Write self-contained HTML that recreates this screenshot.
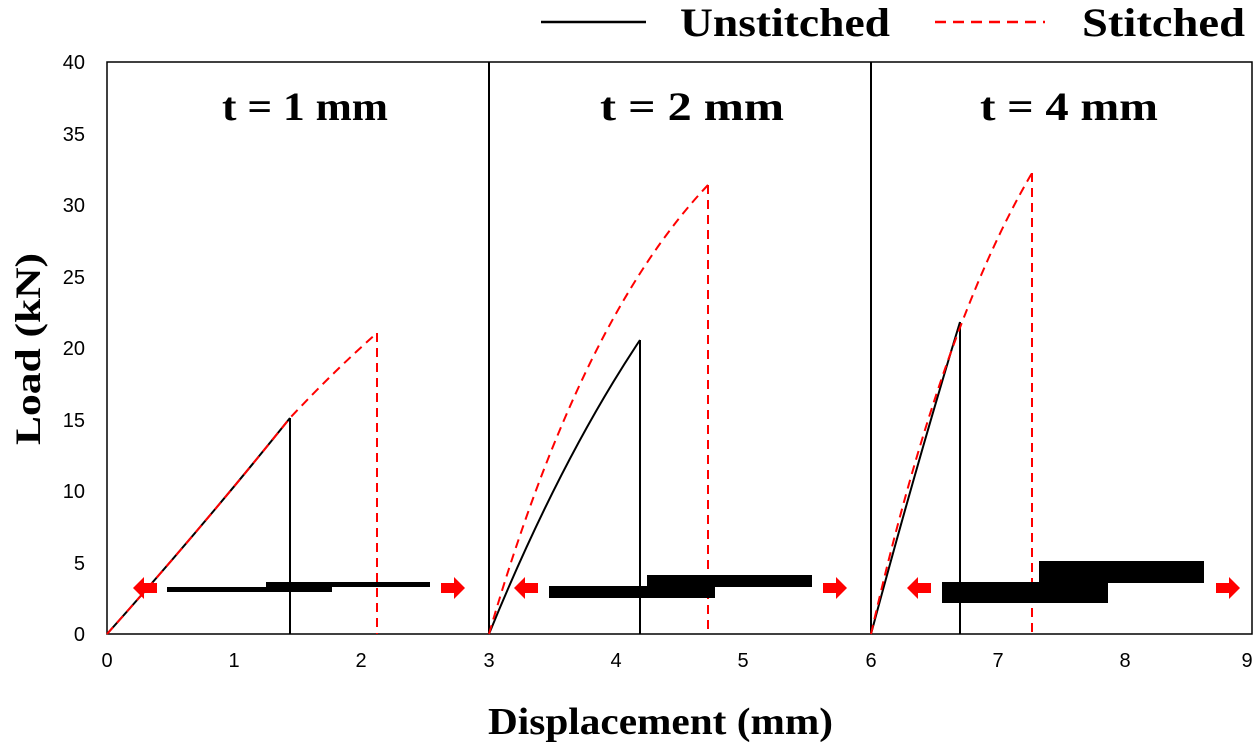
<!DOCTYPE html>
<html><head><style>body{margin:0;background:#fff}</style></head><body>
<svg width="1260" height="747" xmlns="http://www.w3.org/2000/svg">
<rect width="1260" height="747" fill="#fff"/>
<g font-family="Liberation Serif, serif" font-weight="bold" font-size="40">
<line x1="541" y1="22" x2="646" y2="22" stroke="#000" stroke-width="2.5"/>
<text x="680" y="36" textLength="210" lengthAdjust="spacingAndGlyphs">Unstitched</text>
<line x1="935" y1="22" x2="1045" y2="22" stroke="#f00" stroke-width="2.5" stroke-dasharray="11,7"/>
<text x="1082" y="36" textLength="163" lengthAdjust="spacingAndGlyphs">Stitched</text>
<text x="222" y="120" font-size="40" textLength="166" lengthAdjust="spacingAndGlyphs">t = 1 mm</text>
<text x="600" y="120" font-size="40" textLength="184" lengthAdjust="spacingAndGlyphs">t =  2 mm</text>
<text x="980" y="120" font-size="40" textLength="178" lengthAdjust="spacingAndGlyphs">t = 4 mm</text>
<text x="488" y="734" font-size="38" textLength="345" lengthAdjust="spacingAndGlyphs">Displacement (mm)</text>
<text transform="translate(40,445) rotate(-90)" font-size="36" textLength="192" lengthAdjust="spacingAndGlyphs">Load (kN)</text>
</g>
<rect x="107" y="62" width="1145" height="572" fill="none" stroke="#000" stroke-width="1.5"/>
<line x1="489" y1="62" x2="489" y2="634" stroke="#000" stroke-width="2"/>
<line x1="871" y1="62" x2="871" y2="634" stroke="#000" stroke-width="2"/>
<g font-family="Liberation Sans, sans-serif" font-size="20" fill="#000">
<g text-anchor="end">
<text x="85" y="641">0</text><text x="85" y="570">5</text><text x="85" y="498">10</text><text x="85" y="427">15</text>
<text x="85" y="355">20</text><text x="85" y="284">25</text><text x="85" y="212">30</text><text x="85" y="141">35</text><text x="85" y="69">40</text>
</g>
<g text-anchor="middle">
<text x="107" y="667">0</text><text x="234" y="667">1</text><text x="361" y="667">2</text><text x="489" y="667">3</text><text x="616" y="667">4</text>
<text x="743" y="667">5</text><text x="871" y="667">6</text><text x="998" y="667">7</text><text x="1125" y="667">8</text><text x="1247" y="667">9</text>
</g></g>
<g fill="none" stroke-width="2">
<path d="M107,634 Q200,530 290,418" stroke="#000"/>
<line x1="290" y1="418" x2="290" y2="634" stroke="#000"/>
<path d="M107,634 Q200,530 290,418 Q335,370 377,333" stroke="#f00" stroke-dasharray="9,6"/>
<line x1="377" y1="333" x2="377" y2="634" stroke="#f00" stroke-dasharray="9,6"/>
<path d="M489,634 Q560,460 640,340" stroke="#000"/>
<line x1="640" y1="340" x2="640" y2="634" stroke="#000"/>
<path d="M489,634 Q580,320 708,185" stroke="#f00" stroke-dasharray="9,6"/>
<line x1="708" y1="185" x2="708" y2="634" stroke="#f00" stroke-dasharray="9,6"/>
<path d="M871,634 Q915,470 960,322" stroke="#000"/>
<line x1="960" y1="322" x2="960" y2="634" stroke="#000"/>
<path d="M871,634 Q940,330 1032,173" stroke="#f00" stroke-dasharray="9,6"/>
<line x1="1032" y1="173" x2="1032" y2="634" stroke="#f00" stroke-dasharray="9,6"/>
</g>
<g fill="#000">
<rect x="167" y="587" width="165" height="5"/><rect x="266" y="582" width="164" height="5"/>
<rect x="549" y="586" width="166" height="12"/><rect x="647" y="575" width="165" height="12"/>
<rect x="942" y="582" width="166" height="21"/><rect x="1039" y="561" width="165" height="22"/>
</g>
<g fill="#f00">
<path d="M133,588 l11,-11 v6 h13 v10 h-13 v6 z"/>
<path d="M465,588 l-11,-11 v6 h-13 v10 h13 v6 z"/>
<path d="M514,588 l11,-11 v6 h13 v10 h-13 v6 z"/>
<path d="M847,588 l-11,-11 v6 h-13 v10 h13 v6 z"/>
<path d="M907,588 l11,-11 v6 h13 v10 h-13 v6 z"/>
<path d="M1240,588 l-11,-11 v6 h-13 v10 h13 v6 z"/>
</g>
</svg>
</body></html>
